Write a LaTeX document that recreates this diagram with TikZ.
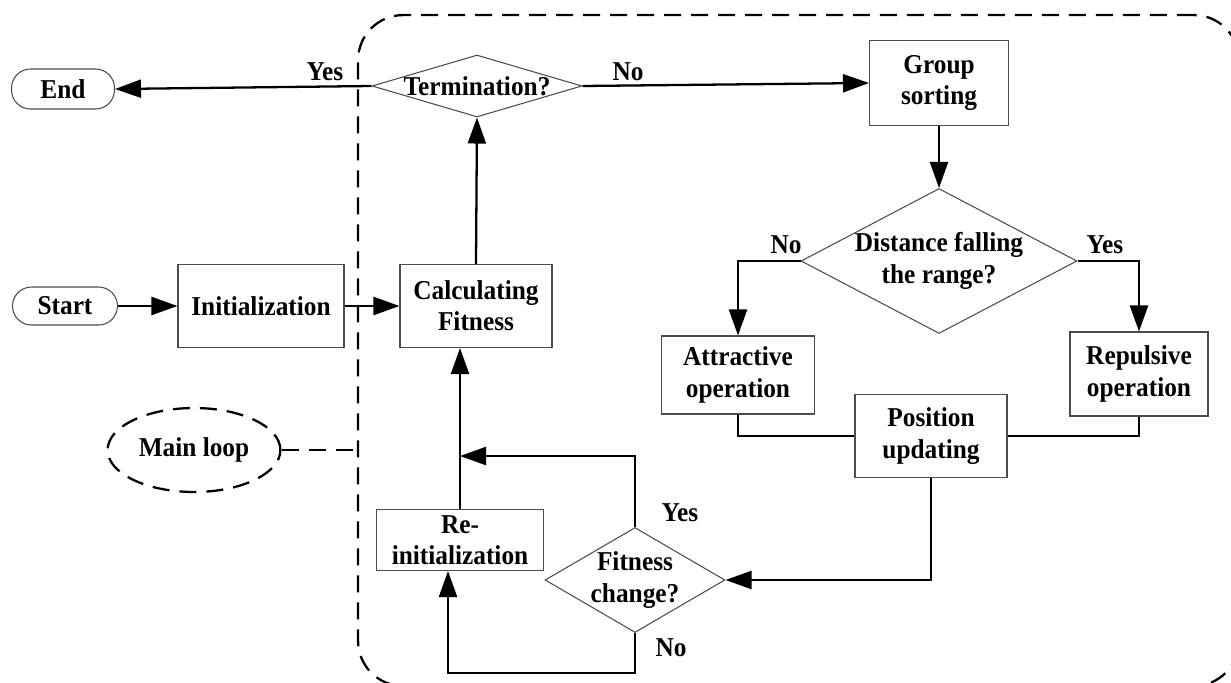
\documentclass[tikz,border=0pt]{standalone}
\usepackage{fontspec}
\setmainfont{Liberation Serif}[FakeStretch = 0.93]
\usetikzlibrary{arrows.meta, shapes.geometric}

\tikzset{
	box/.style = {draw = black!70, line width = 0.6pt, align = center, inner sep = 2pt},
	terminal/.style = {box, rounded corners = 0.38cm},
	decision/.style = {diamond, draw = black!70, line width = 0.6pt, inner sep = 0pt},
	flow/.style = {line width = 1.3pt, -{Triangle[length = 0.52cm, width = 0.36cm]}},
	link/.style = {line width = 1.3pt},
	border/.style = {draw, line width = 1.3pt, dash pattern = on 0.34cm off 0.2cm},
	every label/.style = {align = center, inner sep = 0pt}
}

\begin{document}
\begin{tikzpicture}[x = 0.02cm, y = -0.02cm, font = \bfseries\fontsize{15.5}{17.8}\selectfont]
	\useasboundingbox (0,0) rectangle (1231,683);
	\node[border, rounded corners = 0.9cm, minimum width = 17.62cm, minimum height = 13.42cm] (Border) at (798.5,350.5) {};

	\node[terminal, minimum width = 2.06cm, minimum height = 0.8cm](End) at (63,89) {End};
	\node[terminal, minimum width = 2.1cm, minimum height = 0.76cm](Start) at (65,306) {Start};
	\node[box, minimum width = 3.32cm, minimum height = 1.66cm](Init) at (261,306) {Initialization};
	\node[box, minimum width = 3.04cm, minimum height = 1.66cm](Calc) at (476,306) {Calculating\\Fitness};
	\node[decision, minimum width = 4.2cm, minimum height = 1.24cm, label = center:Termination?](Term) at (477,86) {};
	\node[box, minimum width = 2.78cm, minimum height = 1.7cm](Group) at (939,83) {Group\\sorting};
	\node[decision, minimum width = 5.52cm, minimum height = 2.9cm, label = {center:{Distance falling\\the range?}}](Dist) at (939,261) {};
	\node[box, minimum width = 3.06cm, minimum height = 1.56cm](Attr) at (738,375) {Attractive\\operation};
	\node[box, minimum width = 2.76cm, minimum height = 1.68cm](Rep) at (1139,374) {Repulsive\\operation};
	\node[box, minimum width = 3.04cm, minimum height = 1.66cm](Pos) at (931,436) {Position\\updating};
	\node[decision, minimum width = 3.6cm, minimum height = 2.1cm, label = {center:{Fitness\\change?}}](Fit) at (635,580) {};
	\node[box, minimum width = 3.34cm, minimum height = 1.22cm](Reinit) at (460,540) {Re-\\initialization};
	\node[border, ellipse, minimum width = 3.34cm, minimum height = 1.68cm](Loop) at (194,450) {Main loop};

	\node (YesEnd) at (325,72) {Yes};
	\node (NoGroup) at (628,72) {No};
	\node (NoAttr) at (786,245) {No};
	\node (YesRep) at (1105,245) {Yes};
	\node (YesFit) at (680,513) {Yes};
	\node (NoFit) at (671,648) {No};

	\coordinate (Join) at (460,456);

	\draw[flow] (Start) -- (Init);
	\draw[flow] (Init) -- (Calc);
	\draw[flow] (Calc.north) -- (Term.south);
	\draw[flow] (Term.west) -- (End.east);
	\draw[flow] (Term.east) -- (Group.west);
	\draw[flow] (Group.south) -- (Dist.north);
	\draw[flow] (Dist.west) -| (Attr.north);
	\draw[flow] (Dist.east) -| (Rep.north);
	\draw[link] (Attr.south) |- (Pos.west);
	\draw[link] (Rep.south) |- (Pos.east);
	\draw[flow] (Pos.south) |- (Fit.east);
	\draw[flow] (Fit.north) |- (Join);
	\draw[flow] (Reinit.north) -- (Reinit.north |- Calc.south);
	\draw[flow] (Fit.south) -- ++(0,40) -| ([xshift = -0.24cm]Reinit.south);
	\draw[border] (Loop.east) -- (Loop.east -| Border.west);
\end{tikzpicture}
\end{document}
